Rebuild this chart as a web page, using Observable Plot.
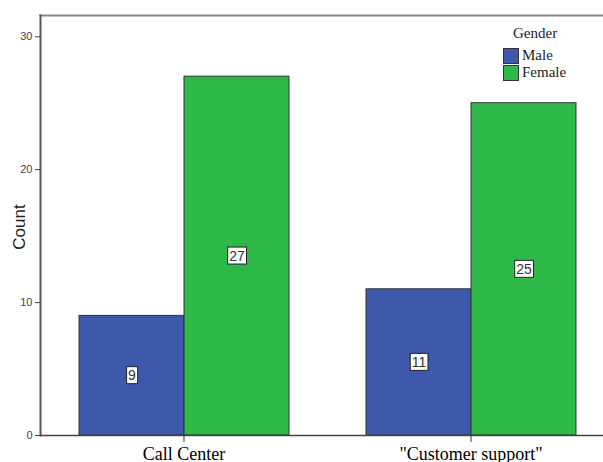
<!DOCTYPE html>
<html><head><meta charset="utf-8">
<script src="https://cdn.jsdelivr.net/npm/d3@7"></script>
<script src="https://cdn.jsdelivr.net/npm/@observablehq/plot@0.6"></script>
<style>
body{margin:0;background:#fff}
#wrap{position:relative;width:603px;height:462px;overflow:hidden}
#legend{position:absolute;left:503px;top:25px;font-family:"Liberation Serif","Times New Roman",serif;font-size:15px;color:#222}
#legend .title{margin-left:10px;margin-bottom:5px;line-height:17px}
#legend .row{display:flex;align-items:center;height:17px}
#legend .sw{width:16px;height:16px;border:1px solid #333;box-sizing:border-box;margin-right:3px}
#ylabel{position:absolute;left:19px;top:227px;transform:translate(-50%,-50%) rotate(-90deg);font-family:"Liberation Sans",Arial,sans-serif;font-size:17px;color:#222;white-space:nowrap;line-height:17px}
</style>
</head><body><div id="wrap"></div>
<script>
const categories = ["Call Center", "\"Customer support\""];
const genders = ["Male", "Female"];
const maleCounts = [9, 11];
const femaleCounts = [27, 25];
const yTicks = [0, 10, 20, 30];
const legendTitle = "Gender";
const yLabel = "Count";
const palette = ["#3e58ac", "#2eb848"];

const data = [];
categories.forEach((c, i) => {
  data.push({category: c, gender: genders[0], count: maleCounts[i]});
  data.push({category: c, gender: genders[1], count: femaleCounts[i]});
});

const yMax = 31.6;
const chart = Plot.plot({
  width: 603, height: 462,
  marginLeft: 50, marginRight: 0, marginTop: 15, marginBottom: 27,
  style: {background: "#fff", fontFamily: "Liberation Sans"},
  fx: {domain: categories, paddingInner: 0, paddingOuter: -0.0366, label: null},
  x: {domain: genders, paddingInner: 0, paddingOuter: 0.354, axis: null},
  y: {domain: [0, yMax], label: null},
  color: {domain: genders, range: palette},
  marks: [
    Plot.barY(data, {fx: "category", x: "gender", y: "count", fill: "gender", stroke: "#333", strokeWidth: 1}),
    Plot.frame({anchor: "top", facet: "super", stroke: "#888", strokeWidth: 2}),
    Plot.frame({anchor: "left", facet: "super", stroke: "#555", strokeWidth: 2}),
    Plot.frame({anchor: "bottom", facet: "super", stroke: "#444", strokeWidth: 1.5}),
    Plot.axisY(yTicks, {anchor: "left", tickSize: 5, tickPadding: 3, fontSize: 11, fill: "#444", stroke: "#444", label: null}),
    Plot.axisFx({anchor: "bottom", tickSize: 7, tickPadding: 5, fontSize: 18, fontFamily: "Liberation Serif", fill: "#000", stroke: "#333", label: null}),
    Plot.text(data, {fx: "category", x: "gender", y: d => d.count / 2, text: d => String(d.count), fontSize: 14, fill: "#333", className: "vlabel"})
  ]
});
document.getElementById("wrap").appendChild(chart);

// white boxes behind value labels, sized from each label's rendered text
d3.select(chart).selectAll("g.vlabel text").each(function() {
  const b = this.getBBox();
  const t = this.getAttribute("transform");
  const rect = document.createElementNS("http://www.w3.org/2000/svg", "rect");
  rect.setAttribute("x", b.x - 1.5);
  rect.setAttribute("y", b.y - 0.5);
  rect.setAttribute("width", b.width + 3);
  rect.setAttribute("height", b.height + 1);
  rect.setAttribute("fill", "#fff");
  rect.setAttribute("stroke", "#222");
  rect.setAttribute("stroke-width", "1");
  if (t) rect.setAttribute("transform", t);
  this.parentNode.insertBefore(rect, this);
});

// y-axis title
const yl = document.createElement("div");
yl.id = "ylabel";
yl.textContent = yLabel;
document.getElementById("wrap").appendChild(yl);

// legend
const lg = document.createElement("div");
lg.id = "legend";
lg.innerHTML = `<div class="title">${legendTitle}</div>` +
  genders.map((g, i) => `<div class="row"><div class="sw" style="background:${palette[i]}"></div>${g}</div>`).join("");
document.getElementById("wrap").appendChild(lg);
</script>
</body></html>
